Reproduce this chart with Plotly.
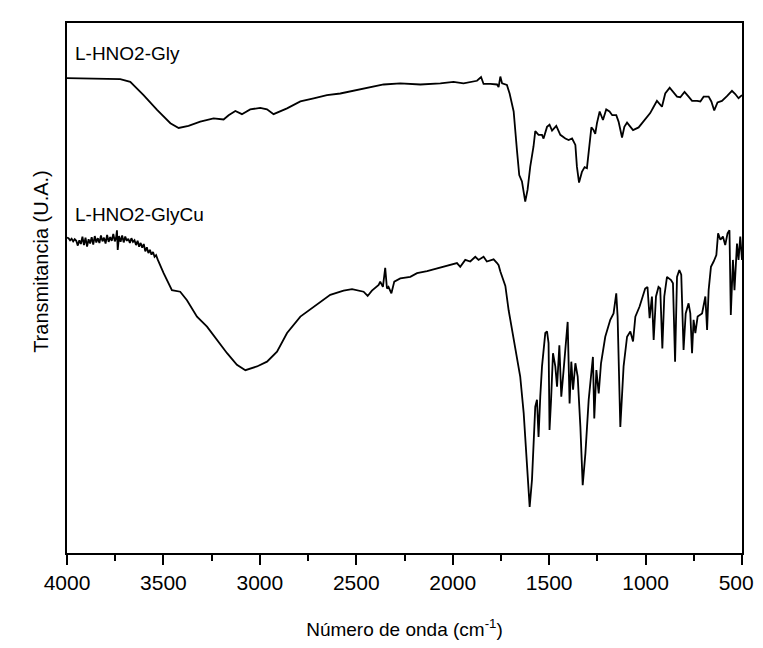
import plotly.graph_objects as go

# ---- L-HNO2-Gly spectrum (wavenumber cm-1, transmittance a.u.) ----
gly_wn = [4000, 3724, 3672, 3603, 3533, 3464, 3421, 3370, 3309, 3240, 3188, 3162, 3127, 3093,
          3050, 2998, 2963, 2929, 2859, 2790, 2721, 2652, 2583, 2514, 2444, 2358, 2272, 2168,
          2064, 1996, 1944, 1898, 1874, 1853, 1840, 1805, 1770, 1762, 1753, 1744, 1719, 1705,
          1684, 1667, 1655, 1641, 1624, 1612, 1598, 1581, 1572, 1555, 1537, 1529, 1511, 1498,
          1485, 1463, 1442, 1416, 1399, 1381, 1364, 1356, 1345, 1330, 1316, 1304, 1295, 1281,
          1270, 1261, 1252, 1238, 1221, 1204, 1187, 1173, 1152, 1140, 1122, 1110, 1096, 1079,
          1065, 1036, 1002, 976, 958, 941, 915, 898, 875, 855, 837, 820, 798, 777, 759, 733,
          716, 699, 673, 659, 644, 627, 604, 578, 552, 535, 518, 500]
gly_t = [89.6, 89.4, 88.9, 86.4, 83.6, 81.1, 80.2, 80.6, 81.4, 82.0, 81.8, 82.6, 83.4, 82.8,
         83.7, 84.0, 83.7, 82.8, 83.9, 85.2, 85.8, 86.4, 86.7, 87.2, 87.8, 88.4, 88.6, 88.4,
         88.6, 88.9, 88.6, 88.9, 89.1, 89.8, 88.5, 88.5, 88.4, 87.9, 89.9, 88.6, 88.3, 86.7,
         83.3, 76.0, 71.3, 70.1, 66.3, 68.5, 72.9, 76.7, 79.6, 78.9, 78.9, 78.2, 80.4, 80.8,
         79.7, 80.6, 78.9, 78.2, 77.9, 78.2, 77.0, 72.9, 69.9, 71.9, 72.8, 72.6, 76.0, 80.3,
         79.8, 79.1, 81.1, 83.3, 81.7, 83.7, 83.3, 82.6, 82.6, 81.4, 78.4, 80.4, 81.2, 80.4,
         79.8, 80.3, 81.8, 83.0, 84.2, 85.3, 84.2, 86.7, 87.8, 87.0, 86.1, 86.0, 87.0, 86.1,
         85.3, 85.3, 85.2, 86.1, 86.1, 85.2, 83.5, 85.0, 85.3, 86.2, 87.2, 86.6, 85.8, 86.4]

# ---- L-HNO2-GlyCu spectrum ----
cu_wn = [4000, 3992, 3984, 3976, 3968, 3960, 3952, 3944, 3936, 3928, 3920, 3912, 3904, 3896,
         3888, 3880, 3872, 3864, 3856, 3848, 3840, 3832, 3824, 3816, 3808, 3800, 3792, 3784,
         3776, 3768, 3760, 3752, 3745, 3741, 3737, 3730, 3722, 3714, 3706, 3698, 3690, 3682,
         3674, 3666, 3658, 3650, 3642, 3634, 3626, 3618, 3610, 3602, 3594, 3586, 3578, 3570,
         3562, 3554, 3546, 3538, 3530, 3499, 3456,
         3413, 3378, 3326, 3274, 3222, 3170, 3119, 3075, 3015, 2963, 2911, 2859, 2790, 2721,
         2635, 2566, 2522, 2462, 2441, 2419, 2384, 2376, 2362, 2350, 2341, 2333, 2318, 2303,
         2272, 2220, 2185, 2133, 2081, 2030, 1978, 1961, 1935, 1909, 1883, 1866, 1840, 1823,
         1788, 1770, 1762, 1753, 1736, 1727, 1710, 1693, 1667, 1650, 1632, 1615, 1601, 1589,
         1572, 1563, 1555, 1546, 1537, 1520, 1511, 1503, 1498, 1490, 1480, 1468, 1459, 1447,
         1437, 1425, 1404, 1394, 1385, 1376, 1364, 1352, 1338, 1326, 1312, 1295, 1273, 1266,
         1255, 1243, 1231, 1209, 1183, 1166, 1152, 1145, 1131, 1114, 1096, 1079, 1065, 1053,
         1031, 1002, 990, 979, 967, 958, 946, 933, 924, 913, 903, 889, 868, 858, 847, 837,
         825, 815, 803, 792, 777, 768, 759, 751, 742, 730, 707, 690, 681, 673, 661, 647,
         633, 624, 612, 599, 587, 575, 565, 558, 547, 539, 526, 518, 509, 500]
cu_t = [59.5, 59.4, 59.0, 59.3, 58.8, 59.2, 58.9, 58.0, 59.0, 58.3, 59.7, 58.1, 59.5, 57.8,
        59.2, 58.4, 59.6, 58.2, 59.8, 58.6, 59.4, 58.5, 59.9, 58.8, 59.5, 58.4, 60.0, 58.7,
        59.6, 58.9, 60.2, 58.8, 59.6, 60.9, 57.2, 59.8, 58.7, 59.9, 58.6, 59.7, 58.9, 59.3,
        58.5, 59.4, 58.7, 59.0, 58.1, 58.9, 57.8, 58.5, 57.6, 58.3, 56.9, 57.7, 56.6, 57.2,
        56.3, 56.8, 55.9, 56.2, 55.4, 52.8, 49.6,
        49.3, 47.7, 44.6, 42.7, 40.2, 37.7, 35.5, 34.5, 35.2, 36.1, 38.0, 41.5, 44.6, 46.5,
        48.7, 49.5, 49.8, 49.3, 48.5, 49.5, 50.6, 51.2, 50.2, 53.8, 49.9, 50.2, 49.0, 51.2,
        51.8, 52.1, 52.8, 53.2, 53.7, 54.2, 54.7, 54.0, 55.3, 55.0, 55.9, 55.3, 55.9, 55.0,
        55.4, 54.7, 54.3, 53.1, 51.5, 50.4, 45.8, 42.1, 36.4, 33.3, 26.4, 16.3, 8.7, 13.8,
        27.6, 28.9, 21.9, 29.5, 35.2, 41.5, 41.8, 39.6, 23.2, 28.9, 37.7, 35.2, 31.4, 39.2,
        29.5, 34.5, 43.6, 28.2, 36.1, 30.8, 35.8, 33.3, 23.8, 12.8, 18.8, 28.9, 37.0, 25.4,
        34.5, 30.1, 35.8, 40.8, 44.0, 45.2, 49.0, 44.6, 23.8, 35.2, 40.8, 41.8, 39.9, 44.6,
        46.5, 49.9, 50.2, 44.3, 48.4, 40.2, 48.4, 50.2, 49.9, 38.6, 48.4, 52.1, 51.5, 50.9,
        36.1, 52.1, 53.4, 52.5, 38.3, 45.2, 47.1, 45.2, 37.7, 44.0, 41.5, 44.6, 45.2, 48.4,
        42.1, 49.6, 54.0, 55.0, 56.2, 60.3, 59.1, 59.7, 58.1, 60.3, 60.9, 44.9, 55.3, 49.6,
        58.4, 55.3, 59.7, 55.3]

x_ticks = [4000, 3500, 3000, 2500, 2000, 1500, 1000, 500]
x_ticktext = ["4000", "3500", "3000", "2500", "2000", "1500", "1000", "500\u00a0\u00a0"]
labels = ["L-HNO2-Gly", "L-HNO2-GlyCu"]
label_pos = [(3967, 94.3), (3967, 63.8)]
y_title = "Transmitancia (U.A.)"
x_title = "Número de onda (cm<sup>-1</sup>)"

FONT = "Liberation Sans, Arial, sans-serif"

fig = go.Figure()
fig.add_trace(go.Scatter(x=gly_wn, y=gly_t, mode="lines", name=labels[0],
                         line=dict(color="black", width=1.8)))
fig.add_trace(go.Scatter(x=cu_wn, y=cu_t, mode="lines", name=labels[1],
                         line=dict(color="black", width=1.8)))

for txt, (lx, ly) in zip(labels, label_pos):
    fig.add_annotation(x=lx, y=ly, text=txt, showarrow=False, xanchor="left", yanchor="middle",
                       font=dict(family=FONT, size=19, color="black"))

# y-axis title (rotated), placed as in the original figure
fig.add_annotation(x=-0.038, y=0.55, xref="paper", yref="paper", text=y_title,
                   textangle=-90, showarrow=False, xanchor="center", yanchor="middle",
                   font=dict(family=FONT, size=20, color="black"))

# page body has an 8px default margin: figure is sized to fit the 763x648 window
fig.update_layout(
    width=747, height=632,
    margin=dict(l=59, r=13, t=15, b=87),
    paper_bgcolor="white", plot_bgcolor="white",
    showlegend=False,
    font=dict(family=FONT, color="black"),
)
fig.update_xaxes(
    range=[4000, 500], tickvals=x_ticks, ticktext=x_ticktext,
    ticks="outside", ticklen=10, tickwidth=2, tickcolor="black",
    minor=dict(ticks="outside", ticklen=6, tickwidth=2, tickcolor="black", dtick=250, showgrid=False),
    showline=True, linewidth=2, linecolor="black", mirror=True,
    showgrid=False, zeroline=False, automargin=False,
    tickfont=dict(family=FONT, size=21, color="black"),
    ticklabelstandoff=0, ticklabeloverflow="allow",
    title=dict(text=x_title, font=dict(family=FONT, size=19, color="black"), standoff=29),
)
fig.update_yaxes(
    range=[0, 100], showticklabels=False, ticks="",
    showline=True, linewidth=2, linecolor="black", mirror=True,
    showgrid=False, zeroline=False, automargin=False,
)

fig.write_html("out.html")
